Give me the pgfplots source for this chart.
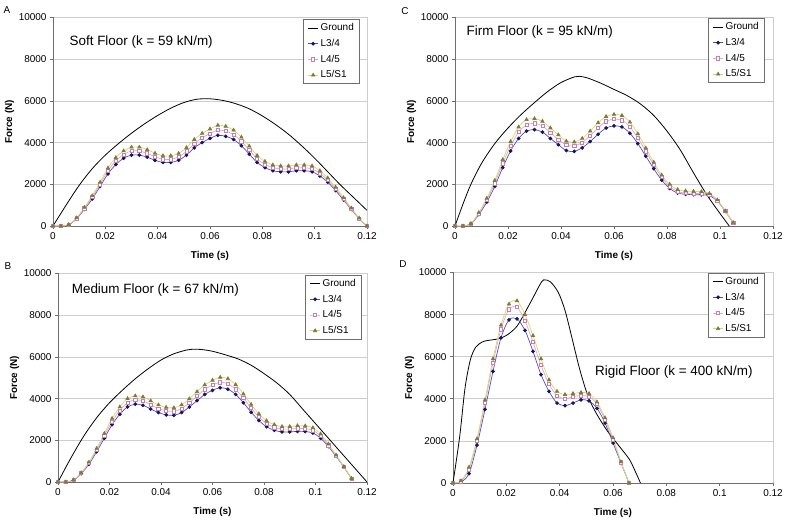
\documentclass[border=0pt]{standalone}
\usepackage{fontspec}
\setmainfont{Liberation Sans}
\usepackage{pgfplots}
\pgfplotsset{compat=1.18}

\definecolor{l34line}{RGB}{80,80,185}
\definecolor{l34mark}{RGB}{20,20,95}
\definecolor{l45line}{RGB}{225,165,210}
\definecolor{l45mark}{RGB}{205,125,175}
\definecolor{l51line}{RGB}{215,215,105}
\definecolor{l51mark}{RGB}{120,125,60}
\definecolor{axisgray}{RGB}{110,110,110}
\definecolor{gridgray}{RGB}{205,205,205}

\tikzset{paneltitle/.style={anchor=west, font=\fontsize{13.5}{16}\selectfont}}

\pgfplotsset{
  panel/.style={
    scale only axis, clip=false,
    xmin=0, xmax=0.12, ymin=0, ymax=10000,
    axis lines*=left,
    axis line style={draw=axisgray, line width=0.7bp},
    xtick={0,0.02,0.04,0.06,0.08,0.1,0.12},
    ytick={0,2000,4000,6000,8000,10000},
    ymajorgrids, grid style={gridgray, line width=0.7bp},
    tick align=outside, major tick length=3bp,
    tick style={axisgray, line width=0.6bp},
    scaled x ticks=false, scaled y ticks=false,
    xticklabel style={/pgf/number format/fixed, /pgf/number format/precision=2},
    yticklabel style={/pgf/number format/set thousands separator={}},
    /pgf/number format/assume math mode=true,
    tick label style={font=\fontsize{10}{12}\selectfont},
    every axis x label/.style={at={(rel axis cs:0.5,0)}, yshift=-30bp, anchor=center,
      font=\bfseries\fontsize{10}{12}\selectfont},
    every axis y label/.style={at={(rel axis cs:0,0.5)}, xshift=-43.5bp, rotate=90, anchor=center,
      font=\bfseries\fontsize{10}{12}\selectfont},
    xlabel={Time (s)}, ylabel={Force (N)},
    legend cell align=left,
    legend style={anchor=north east, draw=axisgray, line width=0.6bp, fill=white,
      font=\fontsize{10}{12}\selectfont, inner xsep=4bp, inner ysep=2bp, row sep=3bp},
    legend image code/.code={\draw[mark repeat=2,mark phase=2,#1] plot coordinates {(0bp,0bp) (5bp,0bp) (10bp,0bp)};},
  },
  ground/.style={black, line width=0.8bp, no markers, smooth},
  s34/.style={l34line, line width=0.7bp, smooth, mark=*, mark size=1.5bp,
    mark options={draw=l34mark, fill=l34mark, solid}},
  s45/.style={l45line, line width=0.7bp, smooth, mark=square*, mark size=1.6bp,
    mark options={draw=l45mark, fill=white, solid}},
  s51/.style={l51line, line width=0.7bp, smooth, mark=triangle*, mark size=1.9bp,
    mark options={draw=l51mark, fill=l51mark, solid}},
}

\begin{document}
\begin{tikzpicture}
\useasboundingbox (0,0) rectangle (785bp,522bp);

% A - soft floor
\begin{axis}[panel, at={(53bp,296bp)}, anchor=south west, width=314bp, height=208.5bp,
  legend style={at={(rel axis cs:0.978,0.991)}}]
\addplot[ground] coordinates {(0,0) (0.005,1000) (0.01,1950) (0.015,2750) (0.02,3400) (0.025,3950)
  (0.03,4450) (0.035,4900) (0.04,5300) (0.045,5650) (0.05,5920) (0.055,6080) (0.06,6100) (0.065,6020)
  (0.07,5860) (0.075,5620) (0.08,5280) (0.085,4870) (0.09,4400) (0.095,3850) (0.1,3250) (0.105,2600)
  (0.11,1950) (0.115,1350) (0.12,750)};
\addplot[s34] coordinates {(0,0) (0.003,0) (0.006,50) (0.009,350) (0.012,800) (0.015,1300) (0.018,1900)
  (0.021,2500) (0.024,2950) (0.027,3250) (0.030,3400) (0.033,3400) (0.036,3300) (0.039,3150) (0.042,3050)
  (0.045,3050) (0.048,3150) (0.051,3400) (0.054,3750) (0.057,4000) (0.060,4200) (0.063,4350) (0.066,4300)
  (0.069,4150) (0.072,3850) (0.075,3450) (0.078,3050) (0.081,2800) (0.084,2650) (0.087,2600) (0.090,2600)
  (0.093,2650) (0.096,2650) (0.099,2600) (0.102,2400) (0.105,2100) (0.108,1700) (0.111,1250) (0.114,800)
  (0.117,350) (0.120,0)};
\addplot[s45] coordinates {(0,0) (0.003,0) (0.006,60) (0.009,370) (0.012,850) (0.015,1380) (0.018,2000)
  (0.021,2650) (0.024,3120) (0.027,3430) (0.030,3600) (0.033,3600) (0.036,3480) (0.039,3320) (0.042,3200)
  (0.045,3200) (0.048,3310) (0.051,3580) (0.054,3950) (0.057,4230) (0.060,4430) (0.063,4600) (0.066,4550)
  (0.069,4380) (0.072,4060) (0.075,3650) (0.078,3220) (0.081,2950) (0.084,2800) (0.087,2740) (0.090,2740)
  (0.093,2790) (0.096,2790) (0.099,2740) (0.102,2520) (0.105,2200) (0.108,1780) (0.111,1300) (0.114,830)
  (0.117,360) (0.120,0)};
\addplot[s51] coordinates {(0,0) (0.003,0) (0.006,70) (0.009,390) (0.012,890) (0.015,1450) (0.018,2100)
  (0.021,2780) (0.024,3280) (0.027,3600) (0.030,3780) (0.033,3780) (0.036,3660) (0.039,3490) (0.042,3370)
  (0.045,3370) (0.048,3480) (0.051,3760) (0.054,4150) (0.057,4440) (0.060,4650) (0.063,4830) (0.066,4780)
  (0.069,4600) (0.072,4260) (0.075,3830) (0.078,3380) (0.081,3100) (0.084,2930) (0.087,2880) (0.090,2880)
  (0.093,2930) (0.096,2930) (0.099,2880) (0.102,2650) (0.105,2300) (0.108,1860) (0.111,1360) (0.114,860)
  (0.117,380) (0.120,0)};
\legend{Ground, L3/4, L4/5, L5/S1}
\draw[gridgray, line width=0.7bp] (rel axis cs:1,0) -- (rel axis cs:1,1);
\node[paneltitle] at (axis cs:0.005,8830) {Soft Floor\ (k = 59 kN/m)};
\node[font=\fontsize{10}{12}\selectfont] at (rel axis cs:0,1) [xshift=-46bp, yshift=7.5bp] {A};
\end{axis}

% C - firm floor
\begin{axis}[panel, at={(455bp,296bp)}, anchor=south west, width=318bp, height=208.5bp,
  legend style={at={(rel axis cs:0.975,0.996)}}]
\addplot[ground] coordinates {(0,0) (0.003,1050) (0.006,2000) (0.01,3000) (0.015,3950) (0.02,4700)
  (0.025,5350) (0.03,5920) (0.035,6450) (0.04,6880) (0.045,7150) (0.047,7180) (0.05,7100) (0.055,6850)
  (0.06,6550) (0.065,6250) (0.07,5850) (0.075,5300) (0.08,4550) (0.085,3650) (0.09,2550) (0.095,1500)
  (0.1,600) (0.1035,0)};
\addplot[s34] coordinates {(0,0) (0.003,0) (0.006,100) (0.009,550) (0.012,1150) (0.015,1900) (0.018,2800)
  (0.021,3600) (0.024,4200) (0.027,4550) (0.030,4620) (0.033,4500) (0.036,4200) (0.039,3900) (0.042,3620)
  (0.045,3580) (0.048,3750) (0.051,4050) (0.054,4400) (0.057,4700) (0.060,4800) (0.063,4750) (0.066,4450)
  (0.069,3950) (0.072,3350) (0.075,2750) (0.078,2200) (0.081,1800) (0.084,1580) (0.087,1520) (0.090,1500)
  (0.093,1500) (0.096,1450) (0.099,1200) (0.102,700) (0.105,150)};
\addplot[s45] coordinates {(0,0) (0.003,0) (0.006,110) (0.009,600) (0.012,1250) (0.015,2050) (0.018,3000)
  (0.021,3850) (0.024,4500) (0.027,4850) (0.030,4920) (0.033,4800) (0.036,4480) (0.039,4150) (0.042,3880)
  (0.045,3840) (0.048,4000) (0.051,4330) (0.054,4700) (0.057,5020) (0.060,5120) (0.063,5070) (0.066,4750)
  (0.069,4220) (0.072,3580) (0.075,2930) (0.078,2340) (0.081,1900) (0.084,1650) (0.087,1580) (0.090,1560)
  (0.093,1560) (0.096,1500) (0.099,1220) (0.102,710) (0.105,150)};
\addplot[s51] coordinates {(0,0) (0.003,0) (0.006,120) (0.009,640) (0.012,1330) (0.015,2180) (0.018,3180)
  (0.021,4050) (0.024,4750) (0.027,5100) (0.030,5150) (0.033,5020) (0.036,4700) (0.039,4370) (0.042,4070)
  (0.045,4030) (0.048,4200) (0.051,4550) (0.054,4950) (0.057,5250) (0.060,5350) (0.063,5300) (0.066,4980)
  (0.069,4420) (0.072,3740) (0.075,3060) (0.078,2440) (0.081,2000) (0.084,1750) (0.087,1680) (0.090,1660)
  (0.093,1650) (0.096,1560) (0.099,1250) (0.102,720) (0.105,160)};
\legend{Ground, L3/4, L4/5, L5/S1}
\draw[gridgray, line width=0.7bp] (rel axis cs:1,0) -- (rel axis cs:1,1);
\node[paneltitle] at (axis cs:0.0031,9290) {Firm Floor\ (k = 95 kN/m)};
\node[font=\fontsize{10}{12}\selectfont] at (rel axis cs:0,1) [xshift=-50bp, yshift=6.5bp] {C};
\end{axis}

% B - medium floor
\begin{axis}[panel, at={(58bp,40bp)}, anchor=south west, width=309bp, height=208.5bp,
  legend style={at={(rel axis cs:0.984,0.993)}}]
\addplot[ground] coordinates {(0,0) (0.005,1150) (0.01,2200) (0.015,3080) (0.02,3800) (0.025,4400)
  (0.03,4950) (0.035,5430) (0.04,5850) (0.045,6150) (0.05,6330) (0.053,6370) (0.056,6350) (0.06,6270)
  (0.065,6100) (0.07,5900) (0.075,5600) (0.08,5200) (0.085,4750) (0.09,4200) (0.095,3500) (0.1,2800)
  (0.105,2100) (0.11,1400) (0.115,700) (0.12,0)};
\addplot[s34] coordinates {(0,0) (0.003,0) (0.006,80) (0.009,400) (0.012,850) (0.015,1450) (0.018,2100)
  (0.021,2750) (0.024,3250) (0.027,3600) (0.030,3730) (0.033,3680) (0.036,3500) (0.039,3330) (0.042,3220)
  (0.045,3200) (0.048,3330) (0.051,3600) (0.054,3900) (0.057,4200) (0.060,4400) (0.063,4520) (0.066,4450)
  (0.069,4200) (0.072,3800) (0.075,3350) (0.078,2950) (0.081,2650) (0.084,2480) (0.087,2400) (0.090,2400)
  (0.093,2430) (0.096,2420) (0.099,2350) (0.102,2100) (0.105,1700) (0.108,1230) (0.111,720) (0.114,170)};
\addplot[s45] coordinates {(0,0) (0.003,0) (0.006,90) (0.009,420) (0.012,900) (0.015,1530) (0.018,2220)
  (0.021,2900) (0.024,3430) (0.027,3800) (0.030,3940) (0.033,3890) (0.036,3700) (0.039,3520) (0.042,3410)
  (0.045,3390) (0.048,3520) (0.051,3800) (0.054,4120) (0.057,4440) (0.060,4650) (0.063,4780) (0.066,4710)
  (0.069,4440) (0.072,4020) (0.075,3540) (0.078,3120) (0.081,2800) (0.084,2620) (0.087,2540) (0.090,2540)
  (0.093,2570) (0.096,2560) (0.099,2480) (0.102,2200) (0.105,1760) (0.108,1260) (0.111,730) (0.114,170)};
\addplot[s51] coordinates {(0,0) (0.003,0) (0.006,100) (0.009,440) (0.012,950) (0.015,1610) (0.018,2330)
  (0.021,3050) (0.024,3600) (0.027,4000) (0.030,4130) (0.033,4080) (0.036,3890) (0.039,3700) (0.042,3580)
  (0.045,3560) (0.048,3700) (0.051,3990) (0.054,4330) (0.057,4660) (0.060,4880) (0.063,5020) (0.066,4950)
  (0.069,4670) (0.072,4220) (0.075,3720) (0.078,3270) (0.081,2940) (0.084,2750) (0.087,2660) (0.090,2660)
  (0.093,2700) (0.096,2690) (0.099,2600) (0.102,2300) (0.105,1820) (0.108,1290) (0.111,740) (0.114,170)};
\legend{Ground, L3/4, L4/5, L5/S1}
\draw[gridgray, line width=0.7bp] (rel axis cs:1,0) -- (rel axis cs:1,1);
\node[paneltitle] at (axis cs:0.004,9210) {Medium Floor\ (k = 67 kN/m)};
\node[font=\fontsize{10}{12}\selectfont] at (rel axis cs:0,1) [xshift=-50bp, yshift=7.5bp] {B};
\end{axis}

% D - rigid floor
\begin{axis}[panel, at={(453bp,39bp)}, anchor=south west, width=320bp, height=210.5bp,
  legend style={at={(rel axis cs:0.975,0.998)}}]
\addplot[ground] coordinates {(0,0) (0.0025,2200) (0.0045,4500) (0.0065,5850) (0.0085,6450) (0.011,6700)
  (0.013,6770) (0.017,6850) (0.0205,7050) (0.024,7450) (0.027,8100) (0.030,8800) (0.0325,9400) (0.034,9650)
  (0.0365,9560) (0.0395,9050) (0.042,8200) (0.0445,6950) (0.047,5650) (0.049,4750) (0.051,4000) (0.054,3250)
  (0.058,2450) (0.062,1800) (0.066,1150) (0.068,650) (0.0703,0)};
\addplot[s34] coordinates {(0,0) (0.003,50) (0.006,450) (0.009,1800) (0.012,3500) (0.015,5300) (0.018,6900)
  (0.021,7750) (0.024,7800) (0.027,7250) (0.030,6250) (0.033,5150) (0.036,4350) (0.039,3800) (0.042,3680)
  (0.045,3800) (0.048,3950) (0.051,3900) (0.054,3550) (0.057,2850) (0.060,1900) (0.063,950) (0.066,0)};
\addplot[s45] coordinates {(0,0) (0.003,80) (0.006,650) (0.009,2000) (0.012,3800) (0.015,5700) (0.018,7300)
  (0.021,8250) (0.024,8350) (0.027,7700) (0.030,6700) (0.033,5600) (0.036,4700) (0.039,4150) (0.042,4000)
  (0.045,4100) (0.048,4150) (0.051,4100) (0.054,3750) (0.057,3000) (0.060,2050) (0.063,980) (0.066,0)};
\addplot[s51] coordinates {(0,0) (0.003,100) (0.006,750) (0.009,2100) (0.012,3950) (0.015,5900) (0.018,7500)
  (0.021,8500) (0.024,8650) (0.027,8000) (0.030,7000) (0.033,5900) (0.036,4900) (0.039,4350) (0.042,4200)
  (0.045,4250) (0.048,4300) (0.051,4250) (0.054,3850) (0.057,3100) (0.060,2150) (0.063,1000) (0.066,0)};
\legend{Ground, L3/4, L4/5, L5/S1}
\draw[gridgray, line width=0.7bp] (rel axis cs:1,0) -- (rel axis cs:1,1);
\node[paneltitle] at (axis cs:0.052,5275) {Rigid Floor (k = 400 kN/m)};
\node[font=\fontsize{10}{12}\selectfont] at (rel axis cs:0,1) [xshift=-50bp, yshift=8bp] {D};
\end{axis}
\end{tikzpicture}
\end{document}
